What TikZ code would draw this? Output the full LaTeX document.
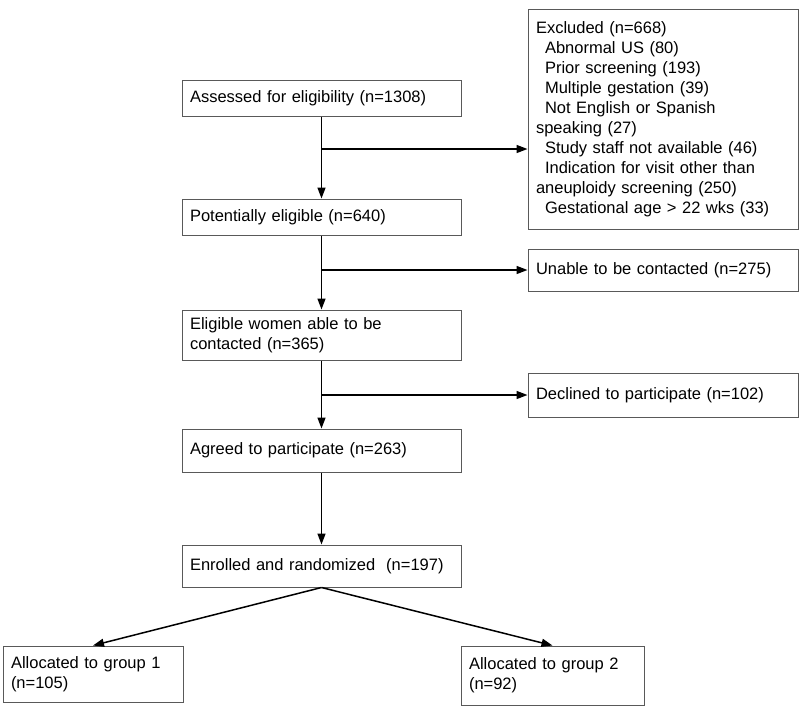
\documentclass[tikz,border=0pt]{standalone}
\usepackage{fontspec}
\setmainfont{Liberation Sans}
\usepackage{tikz}
\usetikzlibrary{arrows.meta,positioning,calc}

\begin{document}
\begin{tikzpicture}[x=1pt,y=-1pt,
    box/.style={draw=black!65,line width=1pt,rectangle,align=left,inner xsep=8pt,inner ysep=0pt,
        font=\fontsize{16.5}{20}\selectfont},
    flow/.style={-{Triangle[length=11pt,width=8pt]},line width=1.5pt}]
    \useasboundingbox (0,0) rectangle (800,707);

    % Main column
    \node[box,text width=263pt,minimum height=36pt] (assess) at (321.5,98) {Assessed for eligibility (n=1308)};
    \node[box,text width=263pt,minimum height=36pt] (potential) at (321.5,217) {Potentially eligible (n=640)};
    \node[box,text width=263pt,minimum height=50pt] (eligible) at (321.5,335) {Eligible women able to be\\contacted (n=365)};
    \node[box,text width=263pt,minimum height=43pt] (agreed) at (321.5,450.5) {Agreed to participate (n=263)};
    \node[box,text width=263pt,minimum height=42pt] (enrolled) at (321.5,566) {Enrolled and randomized~ (n=197)};

    % Exclusions on the right
    \node[box,text width=254pt,minimum height=220pt] (excl) at (663,119) {Excluded (n=668)\\
        \hspace*{9pt}Abnormal US (80)\\
        \hspace*{9pt}Prior screening (193)\\
        \hspace*{9pt}Multiple gestation (39)\\
        \hspace*{9pt}Not English or Spanish\\
        speaking (27)\\
        \hspace*{9pt}Study staff not available (46)\\
        \hspace*{9pt}Indication for visit other than\\
        aneuploidy screening (250)\\
        \hspace*{9pt}Gestational age > 22 wks (33)};
    \node[box,text width=254pt,minimum height=42pt] (unable) at (663,270) {Unable to be contacted (n=275)};
    \node[box,text width=254pt,minimum height=44pt] (declined) at (663,395) {Declined to participate (n=102)};

    % Groups
    \node[box,text width=164pt,minimum height=56pt] (group1) at (93,674) {Allocated to group 1\\(n=105)};
    \node[box,text width=167pt,minimum height=59pt] (group2) at (552.5,675.5) {Allocated to group 2\\(n=92)};

    % Flow
    \coordinate (j1) at (321.5,149);
    \draw[flow] (assess) -- (potential);
    \draw[flow] (j1) -- (j1 -| excl.west);
    \draw[flow] (potential) -- (eligible);
    \draw[flow] (potential.south |- unable.west) -- (unable.west);
    \draw[flow] (eligible) -- (agreed);
    \draw[flow] (eligible.south |- declined.west) -- (declined.west);
    \draw[flow] (agreed) -- (enrolled);
    \draw[flow] (enrolled.south) -- (group1.north);
    \draw[flow] (enrolled.south) -- (group2.north);
\end{tikzpicture}
\end{document}
